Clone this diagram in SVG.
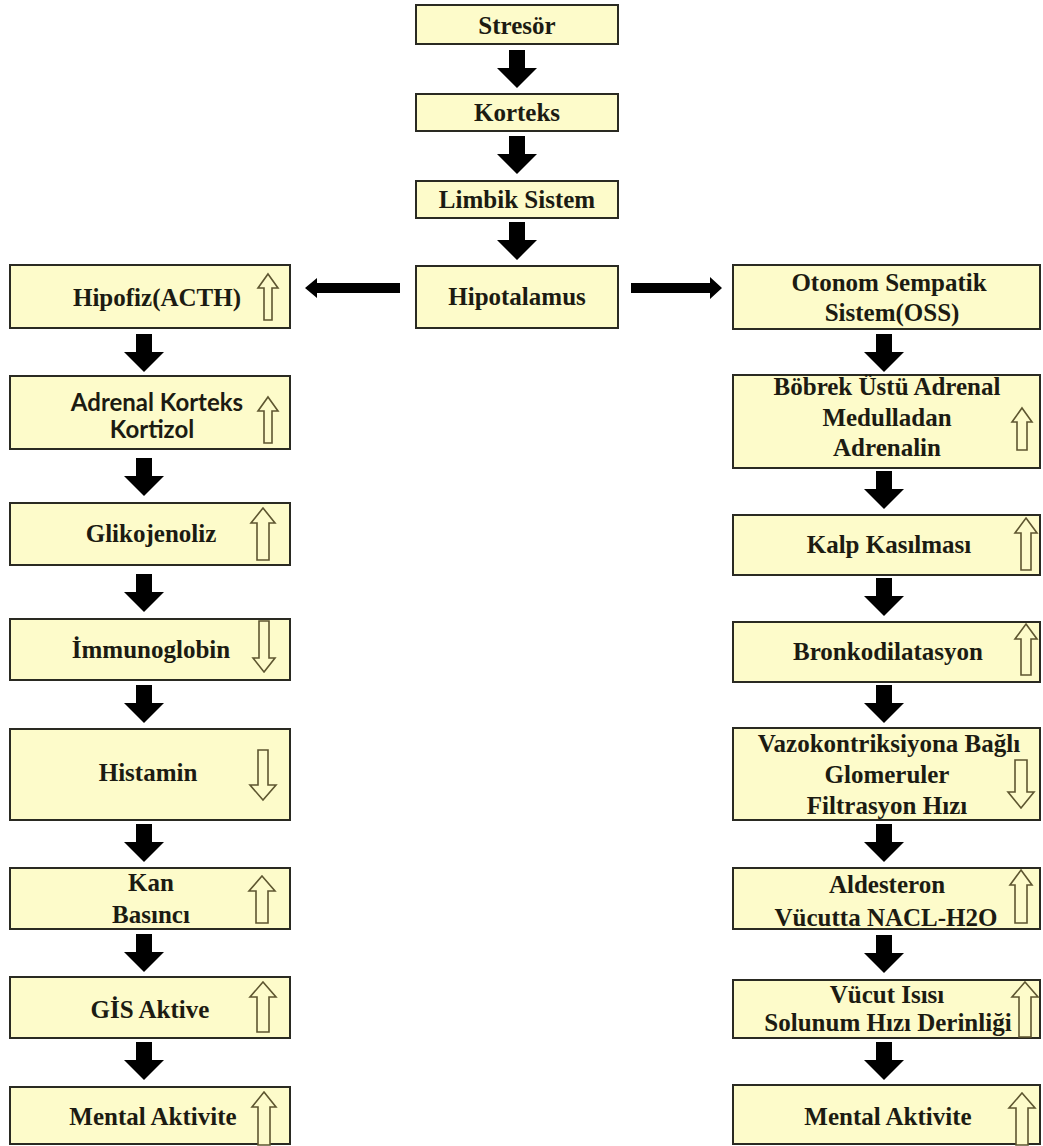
<svg xmlns="http://www.w3.org/2000/svg" xmlns:xlink="http://www.w3.org/1999/xlink" width="1043" height="1146" viewBox="0 0 1043 1146">
<style>
.box{fill:#FDFBCA;stroke:#2a2a22;stroke-width:2}
.t{font-family:"Liberation Serif","Times New Roman",serif;font-weight:bold;font-size:25px;fill:#1c1b12;text-anchor:middle}
.s{font-family:Lato,"Liberation Sans",sans-serif;font-weight:bold;font-size:24px;fill:#1c1b12;text-anchor:middle}
.ind{fill:#FDFBCA;stroke:#5e5630;stroke-width:1.6;stroke-linejoin:miter}
.blk{fill:#000}
</style>
<defs>
<path id="down" d="M-8,0 H8 V18 H20 L0,38 L-20,18 H-8 Z"/>
</defs>
<rect width="1043" height="1146" fill="#fff"/>

<g id="connectors" class="blk">
<use xlink:href="#down" href="#down" x="517" y="50"/>
<use xlink:href="#down" href="#down" x="517" y="136"/>
<use xlink:href="#down" href="#down" x="517" y="222"/>
<polygon points="400,283 317,283 317,278 305,288 317,298 317,293 400,293"/>
<polygon points="631,283 710,283 710,277 722,288 710,299 710,293 631,293"/>
<use xlink:href="#down" href="#down" x="144" y="334"/>
<use xlink:href="#down" href="#down" x="144" y="458"/>
<use xlink:href="#down" href="#down" x="144" y="574"/>
<use xlink:href="#down" href="#down" x="144" y="685"/>
<use xlink:href="#down" href="#down" x="144" y="824"/>
<use xlink:href="#down" href="#down" x="144" y="934"/>
<use xlink:href="#down" href="#down" x="144" y="1042"/>
<use xlink:href="#down" href="#down" x="884" y="334"/>
<use xlink:href="#down" href="#down" x="884" y="471"/>
<use xlink:href="#down" href="#down" x="884" y="578"/>
<use xlink:href="#down" href="#down" x="884" y="685"/>
<use xlink:href="#down" href="#down" x="884" y="824"/>
<use xlink:href="#down" href="#down" x="884" y="935"/>
<use xlink:href="#down" href="#down" x="884" y="1042"/>
</g>

<g id="stresor"><rect class="box" x="416" y="5" width="202" height="39"/><text class="t" x="517" y="34">Stresör</text></g>
<g id="korteks"><rect class="box" x="416" y="94" width="202" height="37"/><text class="t" x="517" y="121">Korteks</text></g>
<g id="limbik"><rect class="box" x="416" y="181" width="202" height="37"/><text class="t" x="517" y="208">Limbik Sistem</text></g>
<g id="hipotalamus"><rect class="box" x="416" y="266" width="202" height="62"/><text class="t" x="517" y="305">Hipotalamus</text></g>

<g id="hipofiz"><rect class="box" x="10" y="265" width="280" height="63"/><text class="t" x="157" y="306">Hipofiz(ACTH)</text>
<polygon class="ind" points="268,274 278,288 272,288 272,320 264,320 264,288 258,288"/></g>
<g id="adrenal-korteks"><rect class="box" x="10" y="376" width="280" height="73"/><text class="s" x="157" y="411">Adrenal Korteks</text><text class="s" x="152" y="438">Kortizol</text>
<polygon class="ind" points="268,397 278,411 272,411 272,443 264,443 264,411 258,411"/></g>
<g id="glikojenoliz"><rect class="box" x="10" y="503" width="280" height="62"/><text class="t" x="151" y="542">Glikojenoliz</text>
<polygon class="ind" points="263,508 275,523 269,523 269,560 257,560 257,523 251,523"/></g>
<g id="immunoglobin"><rect class="box" x="10" y="619" width="280" height="61"/><text class="t" x="151" y="658">İmmunoglobin</text>
<polygon class="ind" points="264,672 275,658 269,658 269,621 259,621 259,658 253,658"/></g>
<g id="histamin"><rect class="box" x="10" y="729" width="280" height="91"/><text class="t" x="148" y="781">Histamin</text>
<polygon class="ind" points="263,800 276,785 268,785 268,750 258,750 258,785 250,785"/></g>
<g id="kan-basinci"><rect class="box" x="10" y="868" width="280" height="61"/><text class="t" x="151" y="891">Kan</text><text class="t" x="151" y="923">Basıncı</text>
<polygon class="ind" points="262,876 275,891 268,891 268,923 256,923 256,891 249,891"/></g>
<g id="gis-aktive"><rect class="box" x="10" y="977" width="280" height="61"/><text class="t" x="150" y="1018">GİS Aktive</text>
<polygon class="ind" points="263,982 276,997 269,997 269,1032 257,1032 257,997 250,997"/></g>
<g id="mental-sol"><rect class="box" x="10" y="1087" width="280" height="57"/><text class="t" x="153" y="1125">Mental Aktivite</text>
<polygon class="ind" points="264,1092 276,1107 270,1107 270,1145 258,1145 258,1107 252,1107"/></g>

<g id="oss"><rect class="box" x="733" y="265" width="307" height="64"/><text class="t" x="889" y="291">Otonom Sempatik</text><text class="t" x="892" y="321">Sistem(OSS)</text></g>
<g id="bobrek"><rect class="box" x="733" y="375" width="307" height="93"/><text class="t" x="887" y="395">Böbrek Üstü Adrenal</text><text class="t" x="887" y="426">Medulladan</text><text class="t" x="887" y="456">Adrenalin</text>
<polygon class="ind" points="1022,408 1032,422 1027,422 1027,450 1017,450 1017,422 1012,422"/></g>
<g id="kalp"><rect class="box" x="733" y="515" width="307" height="60"/><text class="t" x="889" y="553">Kalp Kasılması</text>
<polygon class="ind" points="1026,518 1037,533 1031,533 1031,570 1021,570 1021,533 1015,533"/></g>
<g id="bronko"><rect class="box" x="733" y="622" width="307" height="60"/><text class="t" x="888" y="660">Bronkodilatasyon</text>
<polygon class="ind" points="1026,624 1037,639 1031,639 1031,675 1021,675 1021,639 1015,639"/></g>
<g id="vazo"><rect class="box" x="733" y="728" width="307" height="92"/><text class="t" x="889" y="752">Vazokontriksiyona Bağlı</text><text class="t" x="887" y="783">Glomeruler</text><text class="t" x="887" y="814">Filtrasyon Hızı</text>
<polygon class="ind" points="1021,808 1034,792 1027,792 1027,760 1015,760 1015,792 1008,792"/></g>
<g id="aldesteron"><rect class="box" x="733" y="868" width="307" height="61"/><text class="t" x="887" y="893">Aldesteron</text><text class="t" x="886" y="926">Vücutta NACL-H2O</text>
<polygon class="ind" points="1021,870 1032,885 1027,885 1027,923 1015,923 1015,885 1010,885"/></g>
<g id="vucut"><rect class="box" x="733" y="980" width="307" height="58"/><text class="t" x="887" y="1003">Vücut Isısı</text><text class="t" x="888" y="1031">Solunum Hızı Derinliği</text>
<polygon class="ind" points="1025,982 1038,997 1031,997 1031,1037 1019,1037 1019,997 1012,997"/></g>
<g id="mental-sag"><rect class="box" x="733" y="1085" width="307" height="59"/><text class="t" x="888" y="1125">Mental Aktivite</text>
<polygon class="ind" points="1022,1093 1035,1108 1028,1108 1028,1145 1016,1145 1016,1108 1009,1108"/></g>
</svg>
